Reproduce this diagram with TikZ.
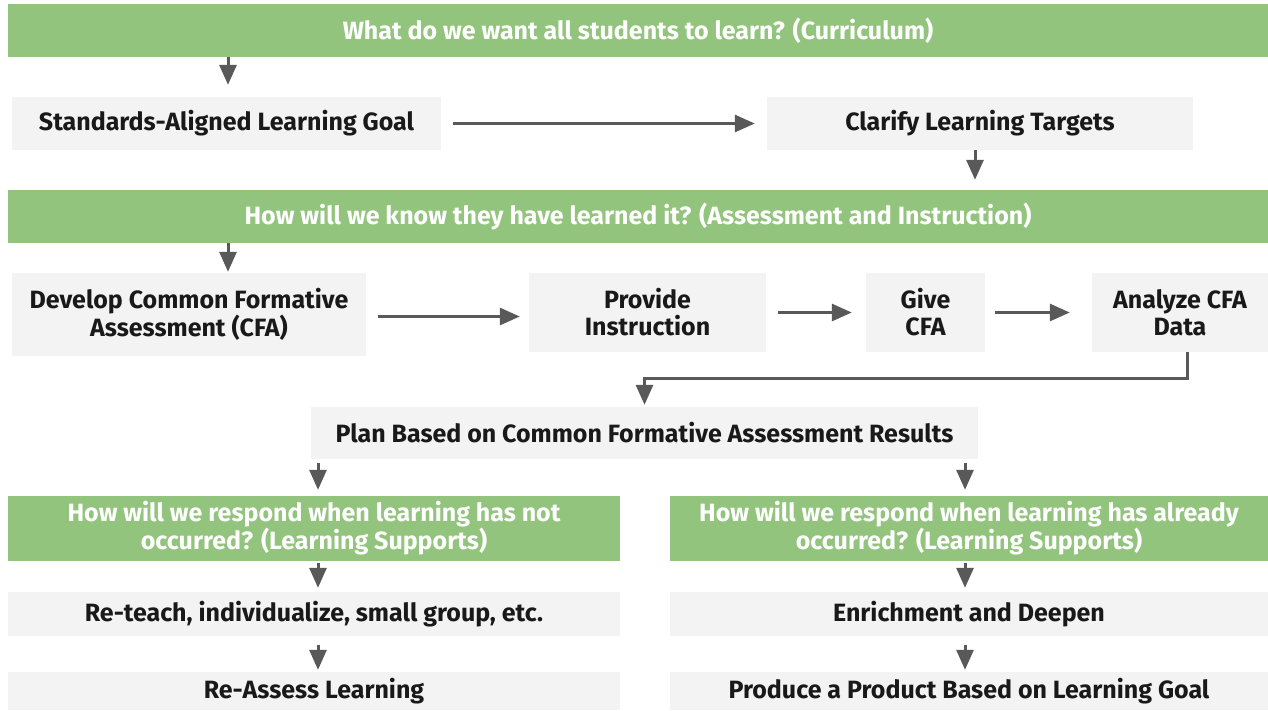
\documentclass[tikz,border=0pt]{standalone}
\usepackage{fontspec}
\setmainfont{Fira Sans}
\usetikzlibrary{arrows.meta}
\definecolor{bandgreen}{HTML}{93C47D}
\definecolor{cellgray}{HTML}{F3F3F3}
\definecolor{linkgray}{HTML}{595959}
\begin{document}
\begin{tikzpicture}[x=1pt,y=-1pt,
  box/.style={fill=cellgray, inner sep=0pt, align=center, text=black!90,
    font=\bfseries\fontsize{25}{27}\selectfont},
  band/.style={box, fill=bandgreen, text=white},
  flow/.style={draw=linkgray, line width=3pt,
    -{Triangle[length=20pt,width=17pt]}}]
\useasboundingbox (0,0) rectangle (1268,710);
% question banners
\node[band, minimum width=1260pt, minimum height=53pt] (q1) at (638,30.5)
  {What do we want all students to learn? (Curriculum)};
\node[band, minimum width=1260pt, minimum height=53pt] (q2) at (638,216.5)
  {How will we know they have learned it? (Assessment and Instruction)};
% curriculum row
\node[box, minimum width=429pt, minimum height=53pt] (salg) at (226.5,123.5)
  {Standards-Aligned Learning Goal};
\node[box, minimum width=426pt, minimum height=53pt] (clt) at (980,123.5)
  {Clarify Learning Targets};
% assessment row
\node[box, minimum width=354pt, minimum height=83pt] (dcfa) at (189,314.5)
  {Develop Common Formative\\Assessment (CFA)};
\node[box, minimum width=237pt, minimum height=79pt] (pi) at (647.5,312.5)
  {Provide\\Instruction};
\node[box, minimum width=119pt, minimum height=79pt] (gc) at (925.5,312.5)
  {Give\\CFA};
\node[box, minimum width=176pt, minimum height=79pt] (ad) at (1180,312.5)
  {Analyze CFA\\Data};
% planning
\node[box, minimum width=667pt, minimum height=52pt] (plan) at (644.5,433)
  {Plan Based on Common Formative Assessment Results};
% left branch
\node[band, minimum width=612pt, minimum height=65pt] (nl) at (314,528.5)
  {How will we respond when learning has not\\occurred? (Learning Supports)};
\node[box, minimum width=612pt, minimum height=44pt] (rt) at (314,614)
  {Re-teach, individualize, small group, etc.};
\node[box, minimum width=612pt, minimum height=38pt] (ra) at (314,691)
  {Re-Assess Learning};
% right branch
\node[band, minimum width=598pt, minimum height=65pt] (nr) at (969,528.5)
  {How will we respond when learning has already\\occurred? (Learning Supports)};
\node[box, minimum width=598pt, minimum height=44pt] (ed) at (969,614)
  {Enrichment and Deepen};
\node[box, minimum width=598pt, minimum height=38pt] (pp) at (969,691)
  {Produce a Product Based on Learning Goal};
% connectors
\draw[flow, shorten >=12pt] ([xshift=1.5pt]q1.south -| salg.north) -- ([xshift=1.5pt]salg.north);
\draw[flow, shorten <=12pt, shorten >=12pt] (salg.east) -- (clt.west);
\draw[flow, shorten >=10pt] ([xshift=-5pt]clt.south) -- ([xshift=-5pt]clt.south |- q2.north);
\draw[flow, shorten >=1pt] ([xshift=1.5pt]q2.south -| salg.north) -- ([xshift=1.5pt]salg.north |- dcfa.north);
\draw[flow, shorten <=12pt, shorten >=9pt] ([yshift=-2pt]dcfa.east) -- ([yshift=-2pt]dcfa.east -| pi.west);
\draw[flow, shorten <=12pt, shorten >=14pt] (pi.east) -- (gc.west);
\draw[flow, shorten <=10pt, shorten >=22pt] (gc.east) -- (ad.west);
\draw[flow, shorten >=2pt] ([xshift=7pt]ad.south) -- ++(0,26) -| (plan.north);
\draw[flow, shorten <=4pt, shorten >=6pt] (plan.south -| nl.north) ++(4,0) -- ([xshift=4pt]nl.north);
\draw[flow, shorten <=4pt, shorten >=6pt] (plan.south -| nr.north) ++(-4,0) -- ([xshift=-4pt]nr.north);
\draw[flow, shorten <=2pt, shorten >=4pt] ([xshift=4pt]nl.south) -- ([xshift=4pt]rt.north);
\draw[flow, shorten <=2pt, shorten >=4pt] ([xshift=-4pt]nr.south) -- ([xshift=-4pt]ed.north);
\draw[flow, shorten <=9pt, shorten >=2pt] ([xshift=4pt]rt.south) -- ([xshift=4pt]ra.north);
\draw[flow, shorten <=9pt, shorten >=2pt] ([xshift=-4pt]ed.south) -- ([xshift=-4pt]pp.north);
\end{tikzpicture}
\end{document}
